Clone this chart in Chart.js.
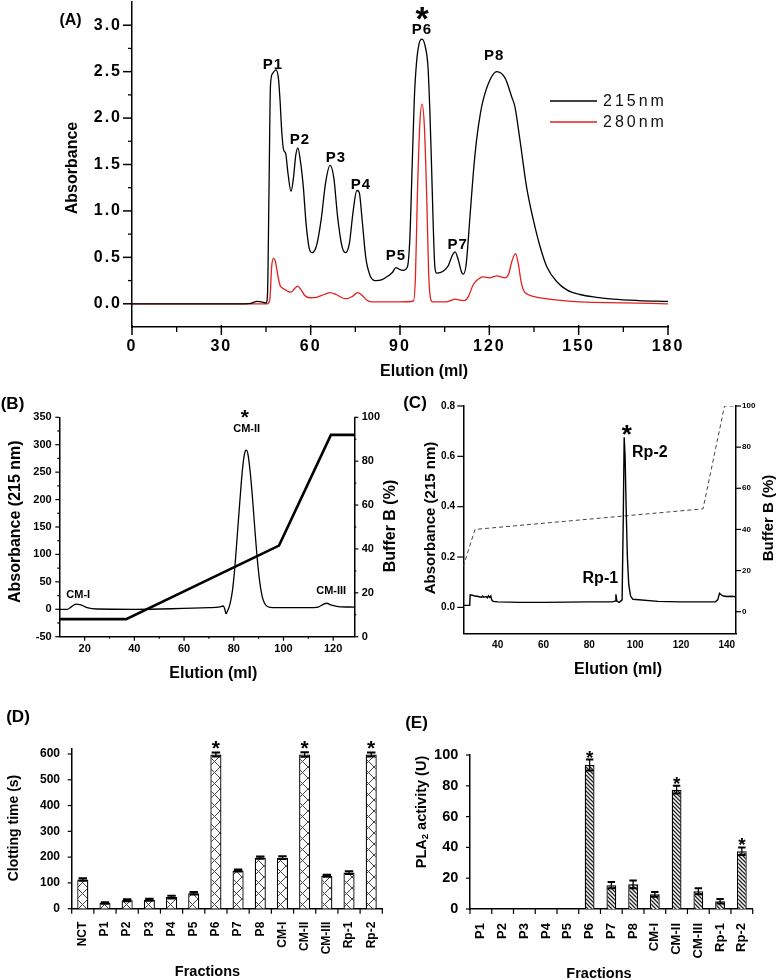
<!DOCTYPE html>
<html>
<head>
<meta charset="utf-8">
<script src="https://cdn.jsdelivr.net/npm/chart.js@4"></script>
<style>
  body { margin: 0; background: #fff; }
  #page { position: relative; width: 778px; height: 980px; background: #fff; overflow: hidden; }
  canvas { position: absolute; }
</style>
</head>
<body>
<div id="page">
  <canvas id="chartA" width="778" height="390" style="left:0;top:0"></canvas>
  <canvas id="chartB" width="400" height="305" style="left:0;top:385px"></canvas>
  <canvas id="chartC" width="389" height="305" style="left:389px;top:385px"></canvas>
  <canvas id="chartD" width="389" height="290" style="left:0;top:690px"></canvas>
  <canvas id="chartE" width="389" height="290" style="left:389px;top:690px"></canvas>
</div>
<script>
// ---- (A) gel filtration ----
const elution215 = [0, 38, 40, 42, 43.5, 45, 45.5, 46, 46.5, 47.2, 48.4, 49.2, 49.7, 50.3, 50.9, 51.6, 52.4, 53.4, 54.2, 55,
  55.7, 56.5, 57.5, 58.5, 59.5, 60.5, 62, 63.5, 65, 66.5, 67.8, 69, 70.5, 71.7, 73, 74.2, 75.5, 76.3, 77.3, 78.5,
  80, 81.8, 84, 86, 87.5, 88.6, 89.8, 91, 92.5, 93.3, 94.1, 94.8, 95.5, 96.4, 97.4, 98.4, 99.4, 100, 100.6, 101.2,
  101.7, 102.3, 104.5, 106.2, 107.4, 108.5, 109.6, 110.7, 111.3, 112.2, 113.5, 114.6, 115.7, 117, 117.9, 120.2, 122.5, 125.3, 127.5, 128.6,
  130.3, 132.5, 134.8, 137, 139.3, 142.6, 146, 150.4, 156, 161.6, 170, 180];
const abs215 = [0, 0, 0.005, 0.025, 0.02, 0.01, 0.1, 1.2, 2.35, 2.48, 2.52, 2.42, 2.2, 1.85, 1.66, 1.62, 1.4, 1.21, 1.35, 1.6,
  1.68, 1.55, 1.27, 0.85, 0.6, 0.55, 0.63, 0.9, 1.3, 1.49, 1.35, 0.95, 0.62, 0.55, 0.65, 0.98, 1.22, 1.2, 0.9, 0.5,
  0.3, 0.25, 0.26, 0.3, 0.34, 0.39, 0.37, 0.36, 0.4, 0.7, 1.5, 2.2, 2.58, 2.8, 2.85, 2.78, 2.55, 2.1, 1.48, 0.8,
  0.4, 0.33, 0.35, 0.41, 0.51, 0.56, 0.47, 0.34, 0.32, 0.42, 0.94, 1.4, 1.76, 2.05, 2.19, 2.41, 2.5, 2.43, 2.23, 2.12,
  1.76, 1.26, 0.9, 0.62, 0.4, 0.24, 0.15, 0.1, 0.07, 0.05, 0.035, 0.025];
const elution280 = [0, 45.5, 46.3, 46.9, 47.5, 48.2, 49, 49.7, 50.5, 51.5, 52.5, 53.4, 54.5, 55.6, 56.8, 58, 59.8, 62, 64.5, 66.5,
  68.5, 70.5, 72, 74, 75.8, 77.3, 78.8, 80.5, 90, 94.5, 95.2, 95.8, 96.6, 97.4, 98.2, 99, 99.6, 100.3, 101, 105,
  107, 108.5, 110, 111.5, 113, 114.5, 115.7, 117.9, 120, 122.5, 125.3, 126.5, 127.5, 128.8, 129.8, 130.6, 131.4, 133, 134.8, 140,
  150.4, 165, 180];
const abs280 = [0, 0, 0.05, 0.4, 0.49, 0.45, 0.3, 0.2, 0.17, 0.15, 0.13, 0.125, 0.16, 0.19, 0.15, 0.09, 0.065, 0.07, 0.1, 0.12,
  0.1, 0.065, 0.055, 0.08, 0.12, 0.09, 0.04, 0.02, 0.02, 0.03, 0.3, 1.12, 1.9, 2.15, 1.9, 1.12, 0.35, 0.05, 0.02, 0.02,
  0.035, 0.05, 0.04, 0.035, 0.08, 0.2, 0.25, 0.29, 0.28, 0.3, 0.28, 0.32, 0.45, 0.54, 0.42, 0.25, 0.15, 0.1, 0.08, 0.05,
  0.02, 0.01, 0];
const ticksAx = [0, 30, 60, 90, 120, 150, 180];
const minorAx = [15, 45, 75, 105, 135, 165];
const ticksAy = [0, 0.5, 1, 1.5, 2, 2.5, 3];
const minorAy = [0.25, 0.75, 1.25, 1.75, 2.25, 2.75];

// ---- (B) ion exchange ----
const elutionB = [10, 13, 14.5, 16.5, 18.5, 21, 25, 40, 55, 70, 74, 75.8, 76.4, 76.9, 77.6, 78.5, 79.5, 80.5, 81.5, 82.5,
  83.5, 84.3, 85, 85.7, 86.5, 87.5, 88.5, 89.5, 90.5, 91.5, 92.5, 93.5, 96, 110, 114, 116, 117.5, 119, 122, 128.5];
const absB = [0, 0, 4, 9.5, 8, 3, 0.5, 0, 1, 3, 4, 6, 0, -8, -2, 10, 35, 80, 140, 200,
  255, 283, 290, 283, 255, 205, 145, 90, 48, 22, 10, 5, 3, 3, 4, 9, 11, 8, 5, 4];
const bufferBx = [10, 36.7, 98.2, 119.1, 128.5];
const bufferB = [8, 8, 41.5, 92, 92];
const ticksBx = [20, 40, 60, 80, 100, 120];
const minorBx = [30, 50, 70, 90, 110];
const ticksBy = [-50, 0, 50, 100, 150, 200, 250, 300, 350];
const minorBy = [-25, 25, 75, 125, 175, 225, 275, 325];
const ticksBy1 = [0, 20, 40, 60, 80, 100];
const minorBy1 = [10, 30, 50, 70, 90];

// ---- (C) reverse phase ----
const elutionC = [25, 27.8, 28, 29, 30, 31, 32, 33, 33.5, 34, 35, 35.5, 36, 36.5, 37, 37.4, 38, 40, 50, 60,
  70, 80, 90, 91.2, 91.6, 92, 93, 94.3, 94.8, 95.2, 95.6, 96.1, 96.6, 97.2, 98, 99, 110, 120, 130, 135,
  136, 136.8, 137.5, 138.5, 140, 142, 144];
const absC = [0.008, 0.008, 0.05, 0.048, 0.045, 0.044, 0.042, 0.04, 0.045, 0.04, 0.043, 0.038, 0.046, 0.04, 0.045, 0.03, 0.024, 0.022, 0.02, 0.02,
  0.021, 0.022, 0.022, 0.025, 0.052, 0.025, 0.02, 0.03, 0.35, 0.676, 0.6, 0.38, 0.2, 0.09, 0.045, 0.032, 0.024, 0.022, 0.022, 0.022,
  0.03, 0.056, 0.05, 0.045, 0.043, 0.044, 0.042];
const bufferCx = [25, 30.1, 129.6, 139, 144];
const bufferC = [22, 40, 50, 100, 100];
const ticksCx = [40, 60, 80, 100, 120, 140];
const ticksCy = [0, 0.2, 0.4, 0.6, 0.8];
const ticksCy1 = [0, 20, 40, 60, 80, 100];

// ---- (D) clotting time ----
const fractionsD = ['NCT', 'P1', 'P2', 'P3', 'P4', 'P5', 'P6', 'P7', 'P8', 'CM-I', 'CM-II', 'CM-III', 'Rp-1', 'Rp-2'];
const clotting = [113, 22, 33, 35, 45, 60, 598, 148, 198, 198, 598, 128, 140, 598];
const clottingErr = [5, 3, 4, 4, 5, 5, 8, 4, 4, 5, 9, 4, 5, 8];
const starsD = ['P6', 'CM-II', 'Rp-2'];
const ticksDy = [0, 100, 200, 300, 400, 500, 600];

// ---- (E) PLA2 activity ----
const fractionsE = ['P1', 'P2', 'P3', 'P4', 'P5', 'P6', 'P7', 'P8', 'CM-I', 'CM-II', 'CM-III', 'Rp-1', 'Rp-2'];
const pla2 = [0, 0, 0, 0, 0, 93.5, 15.5, 16, 9.5, 77.5, 11.5, 5, 37.5];
const pla2Err = [0, 0, 0, 0, 0, 3.5, 2, 2.5, 1.5, 2.5, 2, 1.5, 2.5];
const starsE = ['P6', 'CM-II', 'Rp-2'];
const ticksEy = [0, 20, 40, 60, 80, 100];

const ARIAL = '"Liberation Sans", Arial, sans-serif';

function toPoints(xs, ys) {
  return xs.map((x, i) => ({ x: x, y: ys[i] }));
}

function boundaries(n) {
  const out = [];
  for (let i = 0; i <= n; i++) out.push(i - 0.5);
  return out;
}

// tick marks drawn by hand so major and minor can have different lengths
function tickPlugin(specs) {
  return {
    id: 'tickMarks',
    afterDraw(chart) {
      const ctx = chart.ctx;
      ctx.save();
      ctx.strokeStyle = '#000';
      specs.forEach(s => {
        const sc = chart.scales[s.axis];
        ctx.lineWidth = s.width || 1.2;
        s.values.forEach(v => {
          const p = sc.getPixelForValue(v);
          ctx.beginPath();
          if (sc.position === 'left') {
            ctx.moveTo(sc.right - s.out, p); ctx.lineTo(sc.right + (s.in || 0), p);
          } else if (sc.position === 'right') {
            ctx.moveTo(sc.left + s.out, p); ctx.lineTo(sc.left - (s.in || 0), p);
          } else {
            ctx.moveTo(p, sc.top + s.out); ctx.lineTo(p, sc.top - (s.in || 0));
          }
          ctx.stroke();
        });
      });
      ctx.restore();
    }
  };
}

// free text: page coords (px, py) or data coords (xv, yv)
function textPlugin(items, ox, oy) {
  return {
    id: 'texts',
    afterDraw(chart) {
      const ctx = chart.ctx;
      items.forEach(t => {
        let x = t.px - ox, y = t.py - oy;
        if (t.xv !== undefined) x = chart.scales[t.xs || 'x'].getPixelForValue(t.xv);
        if (t.yv !== undefined) y = chart.scales[t.ys || 'y'].getPixelForValue(t.yv);
        ctx.save();
        ctx.fillStyle = t.color || '#000';
        ctx.textBaseline = 'middle';
        ctx.letterSpacing = t.spacing || '0px';
        ctx.translate(x, y);
        if (t.rot) ctx.rotate(t.rot);
        if (t.parts) {
          let total = 0;
          t.parts.forEach(p => { ctx.font = p.font; total += ctx.measureText(p.text).width; });
          let cx = -total / 2;
          ctx.textAlign = 'left';
          t.parts.forEach(p => {
            ctx.font = p.font;
            ctx.fillText(p.text, cx, p.dy || 0);
            cx += ctx.measureText(p.text).width;
          });
        } else {
          ctx.font = t.font;
          ctx.textAlign = t.align || 'center';
          ctx.fillText(t.text, 0, 0);
        }
        ctx.restore();
      });
    }
  };
}

// error bars and significance stars on bar charts
function errorPlugin(errs, stars, starFont, starGap) {
  return {
    id: 'errorBars',
    afterDatasetsDraw(chart) {
      const ctx = chart.ctx;
      const meta = chart.getDatasetMeta(0);
      const ys = chart.scales.y;
      const vals = chart.data.datasets[0].data;
      const labels = chart.data.labels;
      ctx.save();
      ctx.strokeStyle = '#000';
      meta.data.forEach((bar, i) => {
        if (!errs[i]) return;
        const top = ys.getPixelForValue(vals[i] + errs[i]);
        const bot = ys.getPixelForValue(vals[i] - errs[i]);
        const hw = bar.width * 0.38;
        ctx.lineWidth = 1.3;
        ctx.beginPath(); ctx.moveTo(bar.x, top); ctx.lineTo(bar.x, bot); ctx.stroke();
        ctx.lineWidth = 2;
        ctx.beginPath();
        ctx.moveTo(bar.x - hw, top); ctx.lineTo(bar.x + hw, top);
        ctx.moveTo(bar.x - hw, bot); ctx.lineTo(bar.x + hw, bot);
        ctx.stroke();
        if (stars.includes(labels[i])) {
          ctx.fillStyle = '#000';
          ctx.font = starFont;
          ctx.textAlign = 'center';
          ctx.textBaseline = 'middle';
          ctx.fillText('*', bar.x, top - starGap);
        }
      });
      ctx.restore();
    }
  };
}

function fixedAxis(size) {
  return s => {
    if (s.isHorizontal()) s.height = size; else s.width = size;
    s.paddingLeft = 0; s.paddingRight = 0; s.paddingTop = 0; s.paddingBottom = 0;
  };
}

function setTicks(values) {
  return s => { s.ticks = values.map(v => ({ value: v })); };
}

const noGrid = { display: false, drawTicks: false };
const axisBorder = { display: true, color: '#000', width: 1.5 };
const baseOptions = {
  responsive: false,
  animation: false,
  events: [],
  plugins: { legend: { display: false }, tooltip: { enabled: false } }
};

// ================= (A) =================
const legendA = {
  id: 'legendA',
  afterDraw(chart) {
    const ctx = chart.ctx;
    chart.data.datasets.forEach((ds, i) => {
      const y = 101 + i * 21;
      ctx.save();
      ctx.strokeStyle = ds.borderColor;
      ctx.lineWidth = 1.3;
      ctx.beginPath(); ctx.moveTo(550, y); ctx.lineTo(597, y); ctx.stroke();
      ctx.fillStyle = '#111';
      ctx.font = '16px ' + ARIAL;
      ctx.letterSpacing = '3px';
      ctx.textAlign = 'left';
      ctx.textBaseline = 'middle';
      ctx.fillText(ds.label, 603, y + 1);
      ctx.restore();
    });
  }
};
const spacingA = {
  id: 'spacingA',
  beforeDraw(chart) { chart.ctx.letterSpacing = '2px'; },
  afterDraw(chart) { chart.ctx.letterSpacing = '0px'; }
};

new Chart(document.getElementById('chartA'), {
  type: 'line',
  data: {
    datasets: [
      { label: '215nm', data: toPoints(elution215, abs215), borderColor: '#000', borderWidth: 1.3,
        pointRadius: 0, cubicInterpolationMode: 'monotone' },
      { label: '280nm', data: toPoints(elution280, abs280), borderColor: '#e3201e', borderWidth: 1.3,
        pointRadius: 0, cubicInterpolationMode: 'monotone' }
    ]
  },
  options: Object.assign({}, baseOptions, {
    layout: { padding: { left: 0, right: 110, top: 2, bottom: 0 } },
    scales: {
      x: {
        type: 'linear', min: 0, max: 180, grid: noGrid, border: axisBorder,
        ticks: { color: '#000', font: { size: 16, weight: 'bold', family: ARIAL }, padding: 10, maxRotation: 0 },
        afterBuildTicks: setTicks(ticksAx), afterFit: fixedAxis(63)
      },
      y: {
        type: 'linear', min: -0.25, max: 3.25, grid: noGrid, border: axisBorder,
        ticks: { color: '#000', font: { size: 16, weight: 'bold', family: ARIAL }, padding: 10,
          callback: v => v.toFixed(1) },
        afterBuildTicks: setTicks(ticksAy), afterFit: fixedAxis(132)
      }
    }
  }),
  plugins: [
    spacingA,
    tickPlugin([
      { axis: 'x', values: ticksAx, out: 8, in: 2, width: 1.5 },
      { axis: 'x', values: minorAx, out: 5, width: 1.3 },
      { axis: 'y', values: ticksAy, out: 9, width: 1.5 },
      { axis: 'y', values: minorAy, out: 4, width: 1.3 }
    ]),
    legendA,
    textPlugin([
      { text: '(A)', px: 70.5, py: 21, font: 'bold 16px ' + ARIAL },
      { text: 'Absorbance', px: 72.5, py: 168, rot: -Math.PI / 2, font: 'bold 16px ' + ARIAL },
      { text: 'Elution (ml)', px: 424, py: 371.5, font: 'bold 16px ' + ARIAL },
      { text: 'P1', xv: 47.3, yv: 2.57, font: 'bold 15px ' + ARIAL, spacing: '1px' },
      { text: 'P2', xv: 56.4, yv: 1.77, font: 'bold 15px ' + ARIAL, spacing: '1px' },
      { text: 'P3', xv: 68.5, yv: 1.575, font: 'bold 15px ' + ARIAL, spacing: '1px' },
      { text: 'P4', xv: 76.9, yv: 1.28, font: 'bold 15px ' + ARIAL, spacing: '1px' },
      { text: 'P5', xv: 88.6, yv: 0.52, font: 'bold 15px ' + ARIAL, spacing: '1px' },
      { text: 'P6', xv: 97.4, yv: 2.955, font: 'bold 15px ' + ARIAL, spacing: '1px' },
      { text: '*', xv: 97.4, yv: 3.05, font: 'bold 34px ' + ARIAL },
      { text: 'P7', xv: 109.4, yv: 0.63, font: 'bold 15px ' + ARIAL, spacing: '1px' },
      { text: 'P8', xv: 121.6, yv: 2.67, font: 'bold 15px ' + ARIAL, spacing: '1px' }
    ], 0, 0)
  ]
});

// ================= (B) =================
new Chart(document.getElementById('chartB'), {
  type: 'line',
  data: {
    datasets: [
      { label: 'Absorbance', data: toPoints(elutionB, absB), borderColor: '#000', borderWidth: 1.3,
        pointRadius: 0, cubicInterpolationMode: 'monotone', yAxisID: 'y' },
      { label: 'Buffer B', data: toPoints(bufferBx, bufferB), borderColor: '#000', borderWidth: 2.6,
        pointRadius: 0, tension: 0, yAxisID: 'y1' }
    ]
  },
  options: Object.assign({}, baseOptions, {
    layout: { padding: { left: 0, right: 0, top: 32.3, bottom: 0 } },
    scales: {
      x: {
        type: 'linear', min: 9.8, max: 128.5, grid: noGrid, border: axisBorder,
        ticks: { color: '#000', font: { size: 11, weight: 'bold', family: ARIAL }, padding: 6, maxRotation: 0 },
        afterBuildTicks: setTicks(ticksBx), afterFit: fixedAxis(53.3)
      },
      y: {
        type: 'linear', position: 'left', min: -50, max: 350, grid: noGrid, border: axisBorder,
        ticks: { color: '#000', font: { size: 11, weight: 'bold', family: ARIAL }, padding: 7.6 },
        afterBuildTicks: setTicks(ticksBy), afterFit: fixedAxis(59.3)
      },
      y1: {
        type: 'linear', position: 'right', min: 0, max: 100, grid: noGrid, border: axisBorder,
        ticks: { color: '#000', font: { size: 11, weight: 'bold', family: ARIAL }, padding: 7.4 },
        afterBuildTicks: setTicks(ticksBy1), afterFit: fixedAxis(45.7)
      }
    }
  }),
  plugins: [
    tickPlugin([
      { axis: 'x', values: ticksBx, out: 4 },
      { axis: 'x', values: minorBx, out: 2 },
      { axis: 'y', values: ticksBy, out: 4 },
      { axis: 'y', values: minorBy, out: 2 },
      { axis: 'y1', values: ticksBy1, out: 4 },
      { axis: 'y1', values: minorBy1, out: 2 }
    ]),
    textPlugin([
      { text: '(B)', px: 12.5, py: 404, font: 'bold 17px ' + ARIAL },
      { text: 'Absorbance (215 nm)', px: 15.7, py: 521.7, rot: -Math.PI / 2, font: 'bold 16px ' + ARIAL },
      { text: 'Buffer B (%)', px: 391, py: 526, rot: -Math.PI / 2, font: 'bold 16px ' + ARIAL },
      { text: 'Elution (ml)', px: 213.3, py: 673.3, font: 'bold 16px ' + ARIAL },
      { text: '*', xv: 84.5, yv: 349, font: 'bold 21px ' + ARIAL },
      { text: 'CM-II', xv: 85.2, yv: 329.6, font: 'bold 11px ' + ARIAL },
      { text: 'CM-I', xv: 17.4, yv: 26, font: 'bold 11px ' + ARIAL },
      { text: 'CM-III', xv: 119.2, yv: 32.5, font: 'bold 11px ' + ARIAL }
    ], 0, 385)
  ]
});

// ================= (C) =================
new Chart(document.getElementById('chartC'), {
  type: 'line',
  data: {
    datasets: [
      { label: 'Absorbance', data: toPoints(elutionC, absC), borderColor: '#000', borderWidth: 1.4,
        pointRadius: 0, tension: 0, yAxisID: 'y' },
      { label: 'Buffer B', data: toPoints(bufferCx, bufferC), borderColor: '#444', borderWidth: 1,
        borderDash: [4, 3], pointRadius: 0, tension: 0, yAxisID: 'y1' }
    ]
  },
  options: Object.assign({}, baseOptions, {
    layout: { padding: { left: 0, right: 0, top: 21, bottom: 0 } },
    scales: {
      x: {
        type: 'linear', min: 25, max: 144, grid: noGrid, border: axisBorder,
        ticks: { color: '#000', font: { size: 10, weight: 'bold', family: ARIAL }, padding: 5.7, maxRotation: 0 },
        afterBuildTicks: setTicks(ticksCx), afterFit: fixedAxis(56.7)
      },
      y: {
        type: 'linear', position: 'left', min: -0.103, max: 0.8, grid: noGrid, border: axisBorder,
        ticks: { color: '#000', font: { size: 10, weight: 'bold', family: ARIAL }, padding: 8.3,
          callback: v => v.toFixed(1) },
        afterBuildTicks: setTicks(ticksCy), afterFit: fixedAxis(74.3)
      },
      y1: {
        type: 'linear', position: 'right', min: -10.5, max: 100, grid: noGrid, border: axisBorder,
        ticks: { color: '#000', font: { size: 8, weight: 'bold', family: ARIAL }, padding: 6 },
        afterBuildTicks: setTicks(ticksCy1), afterFit: fixedAxis(42)
      }
    }
  }),
  plugins: [
    tickPlugin([
      { axis: 'y', values: ticksCy, out: 6 },
      { axis: 'y1', values: ticksCy1, out: 5 }
    ]),
    textPlugin([
      { text: '(C)', px: 415, py: 403.5, font: 'bold 17px ' + ARIAL },
      { text: 'Absorbance (215 nm)', px: 431, py: 518, rot: -Math.PI / 2, font: 'bold 15px ' + ARIAL },
      { text: 'Buffer B (%)', px: 769, py: 518, rot: -Math.PI / 2, font: 'bold 15px ' + ARIAL },
      { text: 'Elution (ml)', px: 618, py: 670, font: 'bold 16px ' + ARIAL },
      { text: '*', xv: 96.4, yv: 0.681, font: 'bold 26px ' + ARIAL },
      { text: 'Rp-2', xv: 106.4, yv: 0.616, font: 'bold 16px ' + ARIAL },
      { text: 'Rp-1', xv: 84.8, yv: 0.115, font: 'bold 16px ' + ARIAL }
    ], 389, 385)
  ]
});

// ================= bar fills =================
function crossHatch(ctx) {
  const c = document.createElement('canvas');
  c.width = 11; c.height = 11;
  const g = c.getContext('2d');
  g.fillStyle = '#fff'; g.fillRect(0, 0, 11, 11);
  g.strokeStyle = '#444'; g.lineWidth = 1;
  g.beginPath();
  g.moveTo(0, 0); g.lineTo(11, 11);
  g.moveTo(11, 0); g.lineTo(0, 11);
  g.stroke();
  return ctx.createPattern(c, 'repeat');
}

function diagonalHatch(ctx) {
  const c = document.createElement('canvas');
  c.width = 4; c.height = 4;
  const g = c.getContext('2d');
  g.fillStyle = '#fff'; g.fillRect(0, 0, 4, 4);
  g.strokeStyle = '#222'; g.lineWidth = 1.3;
  g.beginPath();
  g.moveTo(-1, -1); g.lineTo(5, 5);
  g.moveTo(-1, 3); g.lineTo(1, 5);
  g.moveTo(3, -1); g.lineTo(5, 1);
  g.stroke();
  return ctx.createPattern(c, 'repeat');
}

// ================= (D) =================
const ctxD = document.getElementById('chartD').getContext('2d');
new Chart(ctxD, {
  type: 'bar',
  data: {
    labels: fractionsD,
    datasets: [{ label: 'Clotting time', data: clotting, backgroundColor: crossHatch(ctxD),
      borderColor: '#000', borderWidth: 1.3, barPercentage: 0.5, categoryPercentage: 1 }]
  },
  options: Object.assign({}, baseOptions, {
    layout: { padding: { left: 0, right: 6.7, top: 58.3, bottom: 0 } },
    scales: {
      x: {
        grid: noGrid, border: axisBorder,
        ticks: { color: '#000', font: { size: 12, weight: 'bold', family: ARIAL }, padding: 13,
          minRotation: 90, maxRotation: 90, autoSkip: false },
        afterFit: fixedAxis(71.3)
      },
      y: {
        min: 0, max: 622, grid: noGrid, border: axisBorder,
        ticks: { color: '#000', font: { size: 12, weight: 'bold', family: ARIAL }, padding: 11.7 },
        afterBuildTicks: setTicks(ticksDy), afterFit: fixedAxis(71.7)
      }
    }
  }),
  plugins: [
    errorPlugin(clottingErr, starsD, 'bold 21px ' + ARIAL, 3.3),
    tickPlugin([
      { axis: 'x', values: boundaries(fractionsD.length), out: 5 },
      { axis: 'y', values: ticksDy, out: 4 }
    ]),
    textPlugin([
      { text: '(D)', px: 18, py: 717, font: 'bold 17px ' + ARIAL },
      { text: 'Clotting time (s)', px: 14, py: 828, rot: -Math.PI / 2, font: 'bold 14px ' + ARIAL },
      { text: 'Fractions', px: 207.5, py: 971.5, font: 'bold 14.5px ' + ARIAL }
    ], 0, 690)
  ]
});

// ================= (E) =================
const ctxE = document.getElementById('chartE').getContext('2d');
new Chart(ctxE, {
  type: 'bar',
  data: {
    labels: fractionsE,
    datasets: [{ label: 'PLA2 activity', data: pla2, backgroundColor: diagonalHatch(ctxE),
      borderColor: '#000', borderWidth: 1.3, barPercentage: 0.45, categoryPercentage: 1 }]
  },
  options: Object.assign({}, baseOptions, {
    layout: { padding: { left: 0, right: 25.3, top: 65, bottom: 0 } },
    scales: {
      x: {
        grid: noGrid, border: axisBorder,
        ticks: { color: '#000', font: { size: 13, weight: 'bold', family: ARIAL }, padding: 14,
          minRotation: 90, maxRotation: 90, autoSkip: false },
        afterFit: fixedAxis(71)
      },
      y: {
        min: 0, max: 100, grid: noGrid, border: axisBorder,
        ticks: { color: '#000', font: { size: 14.5, weight: 'bold', family: ARIAL }, padding: 11.7 },
        afterBuildTicks: setTicks(ticksEy), afterFit: fixedAxis(81)
      }
    }
  }),
  plugins: [
    errorPlugin(pla2Err, starsE, 'bold 19px ' + ARIAL, 1.2),
    tickPlugin([
      { axis: 'x', values: boundaries(fractionsE.length), out: 5 },
      { axis: 'y', values: ticksEy, out: 4 }
    ]),
    textPlugin([
      { text: '(E)', px: 416.5, py: 723, font: 'bold 17px ' + ARIAL },
      { px: 421.5, py: 812, rot: -Math.PI / 2, parts: [
        { text: 'PLA', font: 'bold 14.5px ' + ARIAL },
        { text: '2', font: 'bold 9.5px ' + ARIAL, dy: 4 },
        { text: ' activity (U)', font: 'bold 14.5px ' + ARIAL }
      ] },
      { text: 'Fractions', px: 599, py: 973.5, font: 'bold 14.5px ' + ARIAL }
    ], 389, 690)
  ]
});
</script>
</body>
</html>
